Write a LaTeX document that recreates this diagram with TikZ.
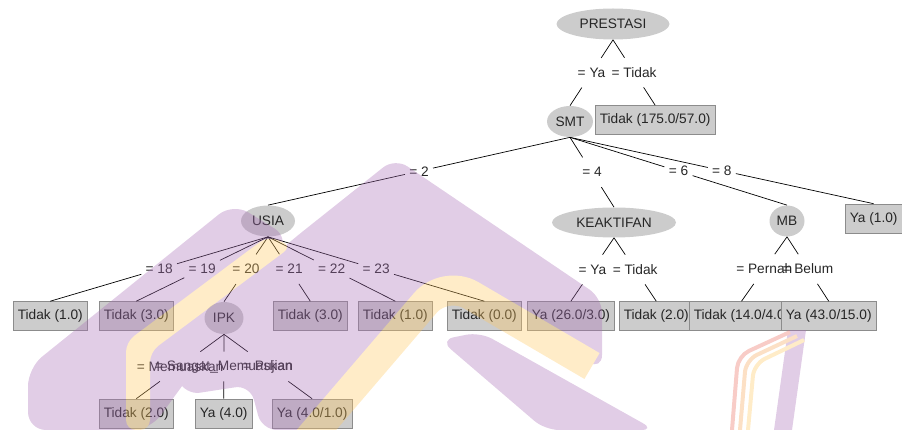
\documentclass[tikz,border=0pt]{standalone}
\usepackage{fontspec}
\setmainfont{Liberation Sans}
\usetikzlibrary{shapes.geometric,calc}
\definecolor{wmpurple}{RGB}{169,112,183}
\definecolor{wmyellow}{RGB}{255,200,98}
\definecolor{wmred}{RGB}{235,110,95}
\definecolor{wmorange}{RGB}{245,165,90}
\tikzset{
  attr/.style={ellipse, fill=black!20, inner sep=0pt, minimum height=31pt},
  leaf/.style={rectangle, fill=black!20, draw=black!45, line width=0.6pt, inner xsep=4.5pt, minimum height=29pt, anchor=west},
  elabel/.style={inner xsep=4pt, minimum height=29pt},
}

\begin{document}
\begin{tikzpicture}[x=1pt, y=-1pt, line width=0.7pt, font=\fontsize{13.7pt}{16pt}\selectfont, text=black!85]
\useasboundingbox (0,0) rectangle (902,430);

\node[attr, minimum width=113pt] (prestasi) at (613,24) {PRESTASI};
\node[attr, minimum width=46pt] (smt) at (570,121.5) {SMT};
\node[leaf] (smtno) at (595,120) {Tidak (175.0/57.0)};
\node[attr, minimum width=54pt] (usia) at (268,221) {USIA};
\node[attr, minimum width=124pt, minimum height=30pt] (keaktifan) at (614,222.5) {KEAKTIFAN};
\node[attr, minimum width=35pt] (mb) at (787,221) {MB};
\node[leaf] (smt8) at (845,218.5) {Ya (1.0)};

\node[leaf] (usia18) at (13,316) {Tidak (1.0)};
\node[leaf] (usia19) at (99,316) {Tidak (3.0)};
\node[attr, minimum width=39pt, minimum height=32pt] (ipk) at (224,318) {IPK};
\node[leaf] (usia21) at (273,316) {Tidak (3.0)};
\node[leaf] (usia22) at (358,316) {Tidak (1.0)};
\node[leaf] (usia23) at (447,316) {Tidak (0.0)};
\node[leaf] (aktifya) at (527,316) {Ya (26.0/3.0)};
\node[leaf] (aktifno) at (619,316) {Tidak (2.0)};
\node[leaf] (mbpernah) at (689,316) {Tidak (14.0/4.0)};
\node[leaf] (mbbelum) at (781,316) {Ya (43.0/15.0)};

\node[leaf] (ipkmem) at (99,413.5) {Tidak (2.0)};
\node[leaf] (ipksangat) at (195,413.5) {Ya (4.0)};
\node[leaf] (ipkpujian) at (272,413.5) {Ya (4.0/1.0)};

\node[elabel] (eya) at ($(prestasi.south)!0.5!(smt.north)$) {= Ya};
\node[elabel] (etidak) at ($(prestasi.south)!0.5!(smtno.north)$) {= Tidak};
\node[elabel] (e2) at ($(smt.south)!0.5!(usia.north)$) {= 2};
\node[elabel] (e4) at ($(smt.south)!0.5!(keaktifan.north)$) {= 4};
\node[elabel] (e6) at ($(smt.south)!0.5!(mb.north)$) {= 6};
\node[elabel] (e8) at ($(smt.south)!0.5!(smt8.north)$) {= 8};
\node[elabel] (e18) at ($(usia.south)!0.5!(usia18.north)$) {= 18};
\node[elabel] (e19) at ($(usia.south)!0.5!(usia19.north)$) {= 19};
\node[elabel] (e20) at ($(usia.south)!0.5!(ipk.north)$) {= 20};
\node[elabel] (e21) at ($(usia.south)!0.5!(usia21.north)$) {= 21};
\node[elabel] (e22) at ($(usia.south)!0.5!(usia22.north)$) {= 22};
\node[elabel] (e23) at ($(usia.south)!0.5!(usia23.north)$) {= 23};
\node[elabel] (eaya) at ($(keaktifan.south)!0.5!(aktifya.north)$) {= Ya};
\node[elabel] (eano) at ($(keaktifan.south)!0.5!(aktifno.north)$) {= Tidak};
\node[elabel] (epernah) at ($(mb.south)!0.5!(mbpernah.north)$) {= Pernah};
\node[elabel] (ebelum) at ($(mb.south)!0.5!(mbbelum.north)$) {= Belum};
\node[elabel] (emem) at ($(ipk.south)!0.5!(ipkmem.north)$) {= Memuaskan};
\node[elabel] (esangat) at ($(ipk.south)!0.5!(ipksangat.north)$) {= Sangat\_Memuaskan};
\node[elabel] (epujian) at ($(ipk.south)!0.5!(ipkpujian.north)$) {= Pujian};

\draw (prestasi.south) -- (eya) -- (smt.north);
\draw (prestasi.south) -- (etidak) -- (smtno.north);
\draw (smt.south) -- (e2) -- (usia.north);
\draw (smt.south) -- (e4) -- (keaktifan.north);
\draw (smt.south) -- (e6) -- (mb.north);
\draw (smt.south) -- (e8) -- (smt8.north);
\draw (usia.south) -- (e18) -- (usia18.north);
\draw (usia.south) -- (e19) -- (usia19.north);
\draw (usia.south) -- (e20) -- (ipk.north);
\draw (usia.south) -- (e21) -- (usia21.north);
\draw (usia.south) -- (e22) -- (usia22.north);
\draw (usia.south) -- (e23) -- (usia23.north);
\draw (keaktifan.south) -- (eaya) -- (aktifya.north);
\draw (keaktifan.south) -- (eano) -- (aktifno.north);
\draw (mb.south) -- (epernah) -- (mbpernah.north);
\draw (mb.south) -- (ebelum) -- (mbbelum.north);
\draw (ipk.south) -- (emem) -- (ipkmem.north);
\draw (ipk.south) -- (esangat) -- (ipksangat.north);
\draw (ipk.south) -- (epujian) -- (ipkpujian.north);

\begin{scope}[transparency group, opacity=0.35]
\fill[wmpurple, rounded corners=18pt] (233,203) -- (290,238) -- (150,430) -- (28,430) -- (28,368) -- cycle;
\fill[wmpurple, rounded corners=15pt] (395,158) -- (602,298) -- (602,370) -- (445,280) -- (330,430) -- (262,430) -- (250,385) -- (185,395) -- (165,350) -- (292,240) -- cycle;
\fill[wmpurple, rounded corners=14pt] (440,340) -- (480,332) -- (655,430) -- (545,430) -- cycle;
\fill[wmyellow, rounded corners=10pt] (268,236) -- (292,246) -- (150,352) -- (150,430) -- (126,430) -- (126,342) -- cycle;
\draw[wmyellow, line width=30pt, rounded corners=30pt] (295,455) -- (445,280) -- (592,366);
\fill[wmpurple] (788,330) -- (806,330) -- (792,430) -- (774,430) -- cycle;
\draw[wmred, line width=4pt, rounded corners=12pt] (790,332) -- (738,356) -- (732,430);
\draw[wmorange, line width=4pt, rounded corners=12pt] (797,336) -- (746,360) -- (740,430);
\draw[wmyellow, line width=4pt, rounded corners=12pt] (804,340) -- (754,364) -- (748,430);
\end{scope}
\end{tikzpicture}
\end{document}
